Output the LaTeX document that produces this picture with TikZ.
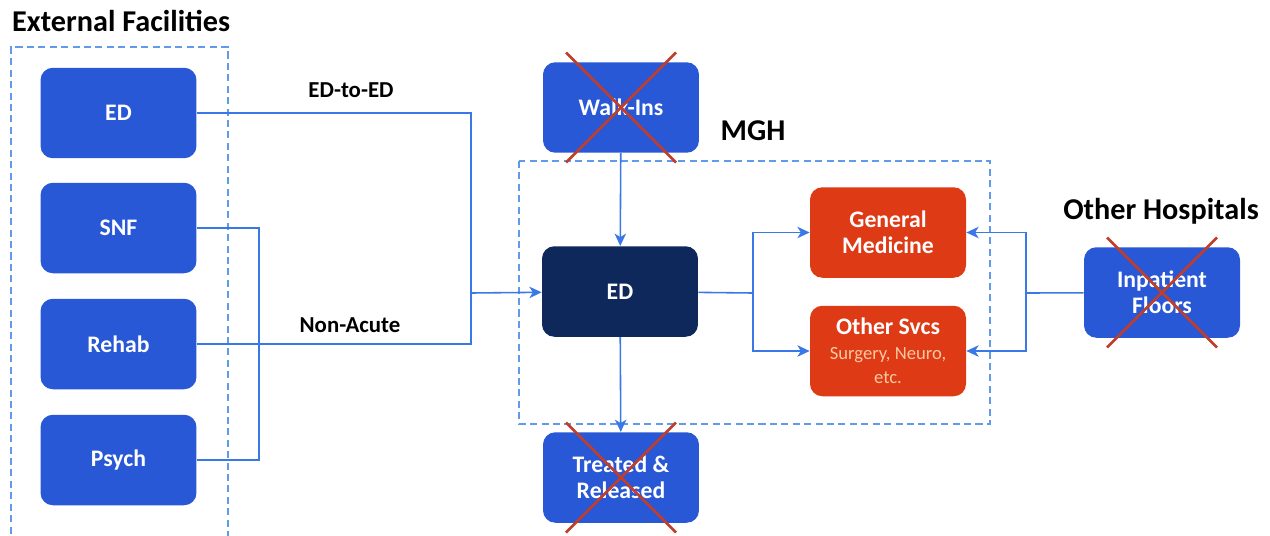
\documentclass[tikz,border=0pt]{standalone}
\usepackage{fontspec}
\setmainfont{Carlito}
\usetikzlibrary{arrows.meta}

\definecolor{boxblue}{RGB}{40,88,214}
\definecolor{navy}{RGB}{14,40,92}
\definecolor{svcred}{RGB}{222,58,22}
\definecolor{linkblue}{RGB}{58,120,232}
\definecolor{dashblue}{RGB}{96,154,232}
\definecolor{crossred}{RGB}{192,62,42}
\definecolor{peach}{RGB}{250,200,160}

\begin{document}
\begin{tikzpicture}[x=0.02cm,y=-0.02cm]
    \tikzstyle{unit}=[rectangle,rounded corners=7pt,fill=boxblue,text=white,
      font=\bfseries\fontsize{13.5}{15}\selectfont,align=center,
      minimum width=3.12cm,minimum height=1.81cm,inner sep=2pt]
    \tikzstyle{mgh ed}=[unit,fill=navy]
    \tikzstyle{service}=[unit,fill=svcred]
    \tikzstyle{heading}=[font=\bfseries\fontsize{17.2}{20}\selectfont]
    \tikzstyle{flow label}=[font=\bfseries\fontsize{13}{15}\selectfont]
    \tikzstyle{region}=[draw=dashblue,line width=0.8pt,dash pattern=on 4pt off 2.5pt]
    \tikzstyle{link}=[draw=linkblue,line width=0.9pt]
    \tikzstyle{flow}=[link,-{Stealth[length=7pt,width=6.5pt,inset=2pt]}]
    \tikzstyle{xline}=[draw=crossred,line width=1.5pt]
    \useasboundingbox (0,0) rectangle (1270,535);

    % groups
    \node[heading,anchor=west] (exttitle) at (6,21) {External Facilities};
    \draw[region] (11,545) -- (11,47) -- (228,47) -- (228,545);
    \draw[region] (519,161) rectangle (990,424);
    \node[heading] (mghtitle) at (753,131) {MGH};
    \node[heading] (othtitle) at (1161,211) {Other Hospitals};

    % external facilities
    \node[unit] (exted) at (118.5,113) {ED};
    \node[unit] (snf) at (118.5,228) {SNF};
    \node[unit] (rehab) at (118.5,344) {Rehab};
    \node[unit] (psych) at (118.5,460) {Psych};

    % MGH
    \node[unit] (walk) at (621,107.5) {Walk-Ins};
    \node[mgh ed] (ed) at (620,291.5) {ED};
    \node[unit] (treated) at (621,477.5) {Treated \&\\Released};
    \node[service] (genmed) at (888,232.5) {General\\Medicine};
    \node[service] (othsvc) at (888,351) {Other Svcs\\[-1pt]
      {\color{peach}\mdseries\fontsize{10.6}{12.5}\selectfont Surgery, Neuro,}\\[-1pt]
      {\color{peach}\mdseries\fontsize{10.6}{12.5}\selectfont etc.}};

    % other hospitals
    \node[unit] (inpat) at (1162,292.5) {Inpatient\\Floors};

    \coordinate (jin) at (471,293);
    \coordinate (jnon) at (259,344);
    \coordinate (jout) at (753,293);
    \coordinate (jback) at (1026,293);

    \draw[link] (exted) -| (jin);
    \draw[link] (rehab) -| (jin);
    \draw[link] (snf) -| (jnon) |- (psych);
    \draw[flow] (jin) -- (ed);
    \node[flow label] (e2e) at (351,90) {ED-to-ED};
    \node[flow label] (nonac) at (350,325) {Non-Acute};

    \draw[flow] (walk) -- (ed);
    \draw[flow] (ed) -- (treated);
    \draw[link] (ed) -- (jout);
    \draw[flow] (jout) |- (genmed);
    \draw[flow] (jout) |- (othsvc);
    \draw[link] (inpat) -- (jback);
    \draw[flow] (jback) |- (genmed);
    \draw[flow] (jback) |- (othsvc);

    % crossed out
    \foreach \n in {walk,treated,inpat}
      {\draw[xline] ([shift={(-55,-55)}]\n.center) -- ([shift={(55,55)}]\n.center);
       \draw[xline] ([shift={(55,-55)}]\n.center) -- ([shift={(-55,55)}]\n.center);}
\end{tikzpicture}
\end{document}
